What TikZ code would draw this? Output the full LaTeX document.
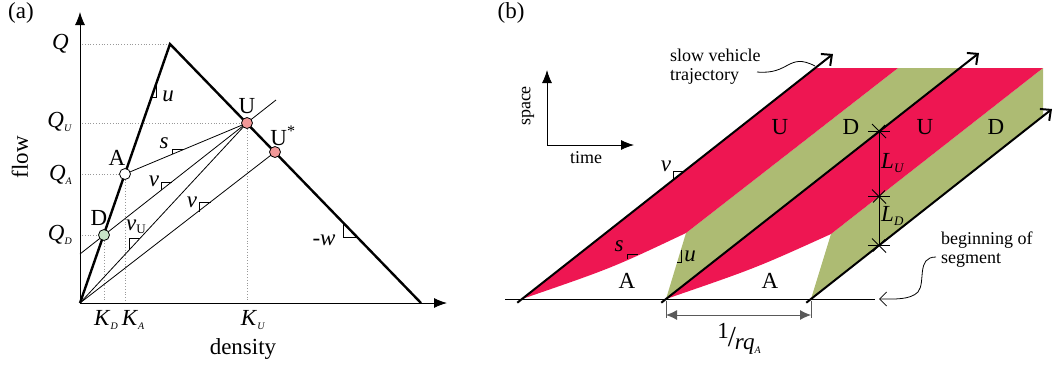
\documentclass[tikz,border=0pt]{standalone}
\usepackage{fontspec}
\setmainfont{Liberation Serif}
\usetikzlibrary{arrows.meta}

\definecolor{upink}{RGB}{238,22,82}
\definecolor{dgreen}{RGB}{173,187,115}
\definecolor{ulight}{RGB}{242,152,152}
\definecolor{dlight}{RGB}{200,228,200}
\newcommand{\lsub}[1]{\raisebox{-0.35ex}{\fontsize{10}{10}\selectfont\textit{#1}}}
\newcommand{\msub}[1]{\raisebox{-0.35ex}{\fontsize{13}{13}\selectfont\textit{#1}}}

\begin{document}
\begin{tikzpicture}[x=1pt,y=-1pt,
    lbl/.style={font=\fontsize{23}{26}\selectfont,inner sep=0pt},
    note/.style={font=\fontsize{18}{20}\selectfont,inner sep=0pt,align=left},
    dot/.style={circle,draw,line width=0.8pt,minimum size=11pt,inner sep=0pt},
    guide/.style={black!40,dotted,line width=0.8pt},
    axis/.style={line width=0.9pt,-{Latex[length=13pt,width=10pt]}},
    fd/.style={line width=2.4pt},
    ray/.style={line width=0.8pt},
    slope/.style={line width=0.7pt},
    traj/.style={line width=2pt,shorten <=-6pt,-{Straight Barb[length=8pt,width=15pt]}},
    dimline/.style={black!65,line width=0.9pt}]
\useasboundingbox (0,0) rectangle (1055,368);

% ---------- (a) fundamental diagram
\node[lbl] (tagA) at (21,13) {(a)};
\coordinate (O) at (80,303);
\coordinate (Ytop) at (80,12);
\coordinate (Xend) at (447,303);
\coordinate (P) at (170,44);
\coordinate (R) at (421,303);
\coordinate (A) at (125,174);
\coordinate (D) at (104,235);
\coordinate (U) at (247,123);
\coordinate (Us) at (275,152);
\coordinate (Vs) at (80,254);
\coordinate (Ve) at (276,100);

\draw[guide] (82,44) -- (P);
\draw[guide] (82,123) -- (U);
\draw[guide] (82,174) -- (A);
\draw[guide] (82,235) -- (D);
\draw[guide] (D) -- (104,301);
\draw[guide] (A) -- (125,301);
\draw[guide] (U) -- (247,301);

\draw[axis] (O) -- (Ytop);
\draw[axis] (O) -- (Xend);
\draw[fd] (O) -- (P) -- (R);

\draw[ray] (A) -- (U);
\draw[ray] (Vs) -- (Ve);
\draw[ray] (O) -- (U);
\draw[ray] (O) -- (Us);

% slope marks
\draw[slope] (156,84) |- (151.5,97);
\draw[slope] (172,153.5) |- (183,149);
\draw[slope] (161,190.4) |- (171.7,182);
\draw[slope] (129,250) |- (140,238);
\draw[slope] (199,211.5) |- (211,202);
\draw[slope] (343,222.5) |- (357,237);

\node[dot,fill=white] (Adot) at (A) {};
\node[dot,fill=dlight] (Ddot) at (D) {};
\node[dot,fill=ulight] (Udot) at (U) {};
\node[dot,fill=ulight] (Usdot) at (Us) {};

\node[lbl] (Albl) at (117,158) {A};
\node[lbl] (Dlbl) at (99,218) {D};
\node[lbl] (Ulbl) at (247,106) {U};
\node[lbl] (Uslbl) at (283,136) {U\textsuperscript{*}};

\node[lbl,anchor=east] (Q) at (69,44) {\textit{Q}};
\node[lbl,anchor=east] (QU) at (72,122) {\textit{Q}\lsub{U}};
\node[lbl,anchor=east] (QA) at (72,175) {\textit{Q}\lsub{A}};
\node[lbl,anchor=east] (QD) at (72,235) {\textit{Q}\lsub{D}};
\node[lbl] (KD) at (106,320) {\textit{K}\lsub{D}};
\node[lbl] (KA) at (133,320) {\textit{K}\lsub{A}};
\node[lbl] (KU) at (253,320) {\textit{K}\lsub{U}};
\node[lbl] (xlab) at (243,349) {density};
\node[lbl,rotate=90] (ylab) at (20,157) {flow};

\node[lbl] (u) at (168,96) {\textit{u}};
\node[lbl] (s) at (164,143) {\textit{s}};
\node[lbl] (v1) at (154,181) {\textit{v}};
\node[lbl] (vU) at (136,227) {\textit{v}\raisebox{-0.3ex}{\fontsize{13}{13}\selectfont U}};
\node[lbl] (v2) at (192,202) {\textit{v}};
\node[lbl] (w) at (324,240) {-\textit{w}};

% ---------- (b) time-space diagram
\node[lbl] (tagB) at (511,13) {(b)};
\coordinate (T1) at (522,299);
\coordinate (T1e) at (833,54);
\coordinate (T2) at (666,299);
\coordinate (T2e) at (979,53);
\coordinate (T3) at (811,299);
\coordinate (T3e) at (1052,109);
\coordinate (G1) at (686,233);
\coordinate (G2) at (831,234);

\fill[dgreen] (T2) -- (G1) -- (898,68) -- (959,68) -- cycle;
\fill[dgreen] (T3) -- (G2) -- (1043,68) -- (1043,116) -- cycle;
\fill[upink] (T1) -- (815,68) -- (898,68) -- (G1) .. controls (612,268) .. (T1) -- cycle;
\fill[upink] (T2) -- (959,68) -- (1043,68) -- (G2) .. controls (756,268) .. (T2) -- cycle;

\coordinate (B0) at (505,299);
\coordinate (B1) at (875,299);
\draw[line width=0.9pt] (B0) -- (B1);
\draw[traj] (T1) -- (T1e);
\draw[traj] (T2) -- (T2e);
\draw[traj] (T3) -- (T3e);

% slope marks
\draw[slope] (673,179) |- (683,171);
\draw[slope] (627,259) |- (638,254.5);
\draw[slope] (681,249.5) |- (677.2,262);

\node[lbl] (vb) at (666,166) {\textit{v}};
\node[lbl] (sb) at (619,246) {\textit{s}};
\node[lbl] (ub) at (690,256) {\textit{u}};

\node[lbl] (U1) at (780,127) {U};
\node[lbl] (D1) at (851,127) {D};
\node[lbl] (U2) at (925,127) {U};
\node[lbl] (D2) at (996,127) {D};
\node[lbl] (A1) at (627,281) {A};
\node[lbl] (A2) at (770,281) {A};

% platoon lengths
\coordinate (L0) at (879,131);
\coordinate (L1) at (879,196.5);
\coordinate (L2) at (879,245.5);
\draw[line width=0.9pt] (L0) -- (L2);
\foreach \p in {L0,L1,L2}{
  \draw[line width=0.8pt] ([xshift=-11pt]\p) -- ([xshift=11pt]\p);
  \draw[line width=0.8pt] ([shift={(-7,-7)}]\p) -- ([shift={(7,7)}]\p);
  \draw[line width=0.8pt] ([shift={(-6,6)}]\p) -- ([shift={(6,-6)}]\p);
}
\node[lbl,anchor=west] (LU) at (881,163) {\textit{L}\msub{U}};
\node[lbl,anchor=west] (LD) at (881,216) {\textit{L}\msub{D}};

% headway
\draw[dimline] (666,301) -- (666,318);
\draw[dimline] (811,301) -- (811,318);
\coordinate (H0) at (666,315);
\coordinate (H1) at (811,315);
\draw[dimline,{Latex[length=11pt,width=10pt]}-{Latex[length=11pt,width=10pt]}] (H0) -- (H1);
\node[lbl] (hw) at (739,339) {\raisebox{5pt}{1}\hspace{-1pt}\raisebox{-3pt}{\fontsize{29}{30}\selectfont/}\hspace{-1pt}\raisebox{-6pt}{\textit{rq}\lsub{A}}};

% space-time axes
\coordinate (S0) at (547,145);
\draw[axis] (S0) -- (547,70);
\draw[axis] (S0) -- (634,145);
\node[note,rotate=90] (space) at (528,106) {space};
\node[note] (time) at (586,158) {time};

% annotations
\node[note,anchor=north west] (slow) at (670,49) {slow vehicle\\[-1pt]trajectory};
\coordinate (Sv) at (757,72);
\coordinate (Sv1) at (815,66);
\draw[line width=0.8pt] (Sv) .. controls (790,75) and (788,52) .. (Sv1);
\node[note,anchor=north west] (seg) at (941,232) {beginning of\\[-1pt]segment};
\coordinate (Sg) at (936,257);
\draw[line width=0.8pt,-{Straight Barb[length=7pt,width=14pt]}] (Sg) .. controls (916,257) and (926,282) .. (918,292) .. controls (910,300) and (895,299) .. (879,299);
\end{tikzpicture}
\end{document}
